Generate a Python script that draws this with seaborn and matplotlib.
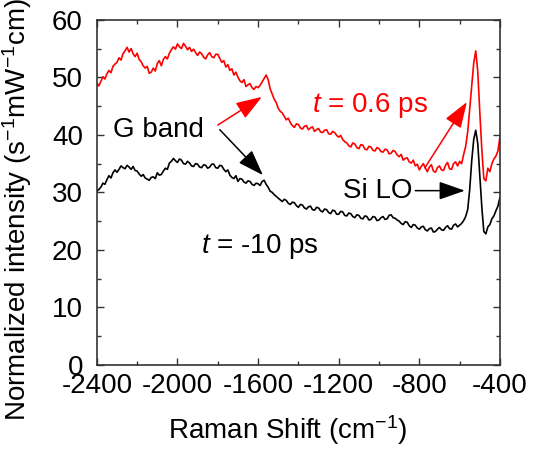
import numpy as np
import pandas as pd
import matplotlib
matplotlib.use("Agg")
import matplotlib.pyplot as plt
import seaborn as sns
from matplotlib.ticker import MultipleLocator

# Raman shift grid (cm^-1), step 10
raman_shift = np.arange(-2400, -399, 10)

# t = 0.6 ps (red)
red_vals = [
    49.0, 48.5, 49.3, 50.1, 49.7, 50.6, 51.2, 50.8, 51.9, 52.3,
    52.6, 53.4, 53.0, 54.1, 54.6, 55.2, 54.4, 55.0, 54.1, 53.6,
    54.2, 53.1, 52.7, 52.0, 51.6, 51.9, 50.7, 50.9, 51.6, 51.1,
    52.4, 52.9, 52.0, 53.1, 53.6, 53.2, 54.2, 54.8, 55.3, 54.9,
    55.8, 55.3, 55.0, 55.9, 55.4, 54.8, 55.2, 54.5, 54.9, 54.3,
    53.8, 54.4, 54.1, 53.5, 53.2, 53.9, 54.3, 53.6, 53.4, 54.0,
    54.0, 53.3, 52.6, 52.9, 51.8, 52.2, 51.2, 51.5, 50.4, 50.9,
    50.0, 49.4, 49.1, 49.6, 48.4, 48.7, 48.9, 48.2, 47.9, 48.4,
    48.2, 48.6, 49.2, 49.8, 50.4, 49.6, 48.0, 47.1, 46.2, 45.6,
    44.6, 44.1, 43.8, 43.2, 42.6, 42.9, 42.1, 41.6, 41.3, 41.9,
    41.8, 41.2, 41.0, 41.5, 41.6, 40.9, 41.2, 41.4, 40.6, 40.9,
    41.1, 40.5, 40.4, 40.8, 40.9, 40.2, 40.1, 40.6, 40.4, 39.9,
    39.6, 39.9, 39.2, 38.8, 38.6, 38.1, 37.9, 38.6, 38.4, 37.8,
    37.6, 38.3, 38.2, 37.5, 37.4, 38.0, 37.9, 37.3, 37.2, 37.8,
    37.6, 37.1, 37.0, 37.5, 37.4, 36.7, 36.8, 37.3, 37.1, 36.5,
    36.2, 36.6, 35.6, 35.9, 36.0, 35.3, 35.1, 35.6, 34.6, 34.9,
    33.9, 34.5, 35.0, 34.2, 33.6, 34.4, 34.8, 33.7, 33.5, 34.3,
    34.6, 33.9, 33.8, 34.7, 35.2, 34.1, 34.0, 35.0, 35.3, 34.6,
    35.4, 35.0, 36.6, 38.0, 40.5, 44.5, 48.6, 52.5, 54.6, 51.0,
    44.0, 37.5, 32.4, 32.0, 34.2, 33.6, 35.0, 35.8, 36.3, 37.2,
    39.6,
]

# t = -10 ps (black)
black_vals = [
    30.2, 30.5, 30.9, 31.6, 31.4, 32.2, 32.9, 32.5, 33.4, 33.9,
    33.5, 34.0, 34.6, 34.3, 34.1, 34.7, 34.4, 34.0, 34.5, 33.8,
    33.7, 33.2, 32.8, 33.1, 32.5, 32.3, 32.1, 32.6, 32.7, 32.4,
    33.4, 33.0, 33.1, 33.7, 34.2, 34.0, 35.1, 35.4, 35.9, 35.5,
    35.2, 35.8, 35.6, 35.0, 34.9, 35.4, 35.1, 34.6, 34.5, 35.0,
    34.9, 34.4, 34.3, 34.8, 34.7, 34.2, 34.4, 34.9, 34.9, 34.3,
    34.2, 34.7, 34.6, 34.0, 33.6, 33.9, 33.0, 32.6, 32.4, 32.9,
    31.9, 32.4, 32.3, 31.8, 31.6, 32.0, 31.9, 31.4, 31.2, 31.6,
    31.5, 31.2, 31.9, 32.1, 31.4, 30.9, 30.2, 30.0, 29.6, 29.3,
    29.0, 28.7, 28.4, 28.8, 28.6, 28.1, 27.9, 28.3, 28.2, 27.7,
    27.4, 27.9, 27.8, 27.3, 27.1, 27.5, 27.6, 27.0, 26.9, 27.4,
    27.3, 26.8, 26.6, 27.1, 27.0, 26.5, 26.3, 26.9, 26.8, 26.2,
    26.2, 26.7, 26.6, 26.0, 25.9, 26.4, 26.3, 25.8, 25.6, 26.1,
    26.0, 25.5, 25.4, 25.9, 25.8, 25.2, 25.3, 25.8, 25.7, 25.1,
    25.2, 25.6, 25.8, 25.3, 25.4, 26.0, 26.1, 25.6, 25.5, 25.2,
    25.0, 24.6, 24.4, 24.9, 24.8, 24.2, 23.9, 24.4, 24.3, 23.8,
    23.6, 24.0, 24.1, 23.5, 23.3, 23.7, 23.8, 23.1, 23.2, 23.6,
    23.9, 23.5, 23.4, 23.9, 24.2, 23.7, 23.6, 24.3, 24.5, 24.0,
    24.3, 24.6, 25.1, 25.8, 27.0, 30.5, 35.5, 39.2, 40.8, 38.5,
    33.0, 27.5, 23.2, 22.8, 24.0, 24.4, 25.4, 25.9, 26.8, 27.6,
    29.1,
]

RED = "#ff0000"
BLK = "#000000"

sns.set_style("ticks")
plt.rcParams["font.family"] = ["Liberation Sans", "DejaVu Sans"]
plt.rcParams["mathtext.fontset"] = "custom"
plt.rcParams["mathtext.rm"] = "Liberation Sans"
plt.rcParams["mathtext.it"] = "Liberation Sans:italic"
plt.rcParams["mathtext.default"] = "regular"
plt.rcParams["axes.unicode_minus"] = False
plt.rcParams["text.color"] = "black"
plt.rcParams["axes.labelcolor"] = "black"

df = pd.DataFrame({"shift": raman_shift, "red": red_vals, "black": black_vals})

fig, ax = plt.subplots(figsize=(5.44, 4.5), dpi=100)
fig.subplots_adjust(left=0.178, right=0.919, top=0.956, bottom=0.189)

sns.lineplot(data=df, x="shift", y="red", color=RED, lw=1.2, ax=ax)
sns.lineplot(data=df, x="shift", y="black", color=BLK, lw=1.2, ax=ax)

ax.set_xlim(-2400, -400)
ax.set_ylim(0, 60)
ax.xaxis.set_major_locator(MultipleLocator(400))
ax.xaxis.set_minor_locator(MultipleLocator(200))
ax.yaxis.set_major_locator(MultipleLocator(10))
ax.yaxis.set_minor_locator(MultipleLocator(5))
ax.tick_params(which="both", direction="in", top=True, right=True, width=1.0,
               labelsize=20, colors="#333333", labelcolor="black")
ax.tick_params(which="major", length=5)
ax.tick_params(which="minor", length=3)
ax.tick_params(axis="y", pad=10)
ax.tick_params(axis="x", pad=5.5)
for s in ax.spines.values():
    s.set_linewidth(1.2)
    s.set_color("#333333")

ax.set_xlabel("Raman Shift (cm$^{-1}$)", fontsize=20)
ax.set_ylabel("Normalized intensity (s$^{-1}$mW$^{-1}$cm)", fontsize=20)
ax.xaxis.set_label_coords(0.473, -0.139)
ax.yaxis.set_label_coords(-0.156, 0.449)

# annotations
ax.text(-2092, 39.7, "G band", fontsize=20, ha="center", va="baseline")
ax.text(-1045, 44.0, "$\\mathit{t}$ = 0.6 ps", fontsize=20, color=RED,
        ha="center", va="baseline")
ax.text(-1594, 19.4, "$\\mathit{t}$ = -10 ps", fontsize=20, ha="center", va="baseline")
ax.text(-1008, 29.0, "Si LO", fontsize=20, ha="center", va="baseline")

head = "-|>,head_length=0.8,head_width=0.28"
arrow_red = dict(arrowstyle=head, color=RED, lw=1.1, mutation_scale=20,
                 shrinkA=0, shrinkB=0)
arrow_blk = dict(arrowstyle=head, color=BLK, lw=1.1, mutation_scale=20,
                 shrinkA=0, shrinkB=0)
ax.annotate("", xy=(-1581, 46.6), xytext=(-1800, 41.7), arrowprops=arrow_red)
ax.annotate("", xy=(-1576, 33.0), xytext=(-1790, 40.9), arrowprops=arrow_blk)
ax.annotate("", xy=(-564, 45.7), xytext=(-772, 34.3), arrowprops=arrow_red)
ax.annotate("", xy=(-574, 30.3), xytext=(-820, 30.3), arrowprops=arrow_blk)

fig.savefig("out.png", dpi=100)
